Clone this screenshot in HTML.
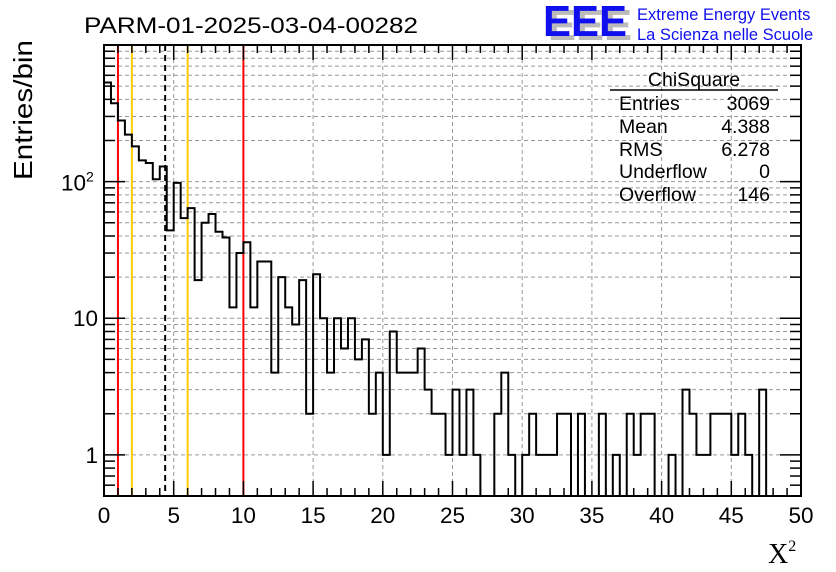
<!DOCTYPE html>
<html><head><meta charset="utf-8"><style>
body{margin:0;background:#fff;width:836px;height:572px;overflow:hidden;font-family:"Liberation Sans",sans-serif}
svg{display:block}
</style></head><body>
<svg id="chart" width="836" height="572" xmlns="http://www.w3.org/2000/svg" font-family="Liberation Sans, sans-serif">
<rect x="0" y="0" width="836" height="572" fill="#fff"/>
<g id="grid"></g>
<g id="vlines"></g>
<g id="hist"></g>
<g id="axes"></g>
<text x="84" y="33" font-size="22" fill="#000" textLength="334" lengthAdjust="spacingAndGlyphs">PARM-01-2025-03-04-00282</text>
<g>
<text x="548" y="40" font-size="44" font-weight="bold" fill="#bbb" textLength="84" lengthAdjust="spacingAndGlyphs">EEE</text>
<text x="543" y="36" font-size="44" font-weight="bold" fill="#1010ee" textLength="84" lengthAdjust="spacingAndGlyphs">EEE</text>
<text x="637" y="20" font-size="16.5" fill="#1010ee">Extreme Energy Events</text>
<text x="637" y="40" font-size="16.5" fill="#1010ee">La Scienza nelle Scuole</text>
</g>
<g font-size="19.5" fill="#000">
<text x="694" y="86" text-anchor="middle">ChiSquare</text>
<line x1="610" y1="90" x2="778" y2="90" stroke="#000" stroke-width="1.5"/>
<text x="619" y="110">Entries</text><text x="770" y="110" text-anchor="end">3069</text>
<text x="619" y="133">Mean</text><text x="770" y="133" text-anchor="end">4.388</text>
<text x="619" y="156">RMS</text><text x="770" y="156" text-anchor="end">6.278</text>
<text x="619" y="178">Underflow</text><text x="770" y="178" text-anchor="end">0</text>
<text x="619" y="201">Overflow</text><text x="770" y="201" text-anchor="end">146</text>
</g>
<text transform="translate(32,180) rotate(-90)" font-size="26" fill="#000" textLength="140" lengthAdjust="spacingAndGlyphs">Entries/bin</text>
<text x="768" y="563" font-size="28" font-family="Liberation Serif, serif" fill="#000">X<tspan font-size="16" dy="-12">2</tspan></text>
</svg>
<script>
const binValues=[531,375,280,221,181,143,137,104,129,44,98,54,64,19,50,58,43,39,12,30,36,12,26,26,4,20,12,9,19,2,21,10,4,10,6,10,5,7,2,4,1,8,4,4,4,6,3,2,2,1,3,1,3,1,0,0,2,4,1,0,1,2,1,1,1,2,2,0,2,0,0,2,0,1,0,2,1,2,2,0,0,1,0,3,2,1,1,2,2,2,1,2,1,0,3,0,0,0,0,0];
const binWidth=0.5;
const xTickLabels=["0","5","10","15","20","25","30","35","40","45","50"];
const xTickValues=[0,5,10,15,20,25,30,35,40,45,50];
const refLinesX=[1,2,4.388,6,10];
const refLineColors=["#ff0000","#ffcc00","#000","#ffcc00","#ff0000"];
const yMin=0.5,yMax=1000,xMin=0,xMax=50;
const L=104,R=801,T=45,B=496;
const NS="http://www.w3.org/2000/svg";
function X(v){return L+(v-xMin)/(xMax-xMin)*(R-L);}
function Y(v){if(v<=yMin)return B;return B-(Math.log10(v)-Math.log10(yMin))/(Math.log10(yMax)-Math.log10(yMin))*(B-T);}
function mk(tag,attrs,parent){const e=document.createElementNS(NS,tag);for(const k in attrs)e.setAttribute(k,attrs[k]);parent.appendChild(e);return e;}
const grid=document.getElementById('grid');
xTickValues.forEach(v=>{if(v>xMin&&v<xMax){const l=mk('line',{x1:X(v),x2:X(v),y1:T,y2:B,stroke:'#999','stroke-dasharray':'4,3','stroke-width':1},grid);

}});
for(let d=0;d<3;d++)for(let m=1;m<10;m++){const v=m*Math.pow(10,d);if(v<=yMin||v>=yMax)continue;const l=mk('line',{x1:L,x2:R,y1:Y(v),y2:Y(v),stroke:'#999','stroke-dasharray':'4,3','stroke-width':1},grid);

}
const vl=document.getElementById('vlines');
refLinesX.forEach((v,i)=>{const a={x1:X(v),x2:X(v),y1:T,y2:B,stroke:refLineColors[i],'stroke-width':2};if(refLineColors[i]==='#000')a['stroke-dasharray']='6,4';const l=mk('line',a,vl);

});
let d='M'+X(0)+','+Y(binValues[0]);
binValues.forEach((v,i)=>{const x0=X(i*binWidth),x1=X((i+1)*binWidth),y=Y(v);d+=' L'+x0+','+y+' L'+x1+','+y;});
const p=mk('path',{d:d,fill:'none',stroke:'#000','stroke-width':2},document.getElementById('hist'));


const ax=document.getElementById('axes');
const fr=mk('rect',{x:L,y:T,width:R-L,height:B-T,fill:'none',stroke:'#000','stroke-width':2},ax);


for(let v=xMin;v<=xMax;v+=1){const maj=v%5===0;const len=maj?15:8;
mk('line',{x1:X(v),x2:X(v),y1:B,y2:B-len,stroke:'#000','stroke-width':1.5},ax);
mk('line',{x1:X(v),x2:X(v),y1:T,y2:T+len,stroke:'#000','stroke-width':1.5},ax);}
xTickValues.forEach((v,i)=>{const t=mk('text',{x:X(v),y:B+27,'font-size':22.5,'text-anchor':'middle',fill:'#000'},ax);t.textContent=xTickLabels[i];

});
for(let dd=-1;dd<3;dd++)for(let m=1;m<10;m++){const v=m*Math.pow(10,dd);if(v<yMin||v>yMax)continue;const len=m===1?21:11;
mk('line',{x1:L,x2:L+len,y1:Y(v),y2:Y(v),stroke:'#000','stroke-width':1.5},ax);
mk('line',{x1:R,x2:R-len,y1:Y(v),y2:Y(v),stroke:'#000','stroke-width':1.5},ax);}
const yl=[[1,'1'],[10,'10']];
yl.forEach(a=>{const t=mk('text',{x:98,y:Y(a[0])+8,'font-size':22.5,'text-anchor':'end',fill:'#000'},ax);t.textContent=a[1];

});
const t2=mk('text',{x:61,y:Y(100)+9,'font-size':22.5,fill:'#000'},ax);t2.textContent='10';


const s=mk('tspan',{'font-size':14,dy:-9},t2);s.textContent='2';
</script>
</body></html>
